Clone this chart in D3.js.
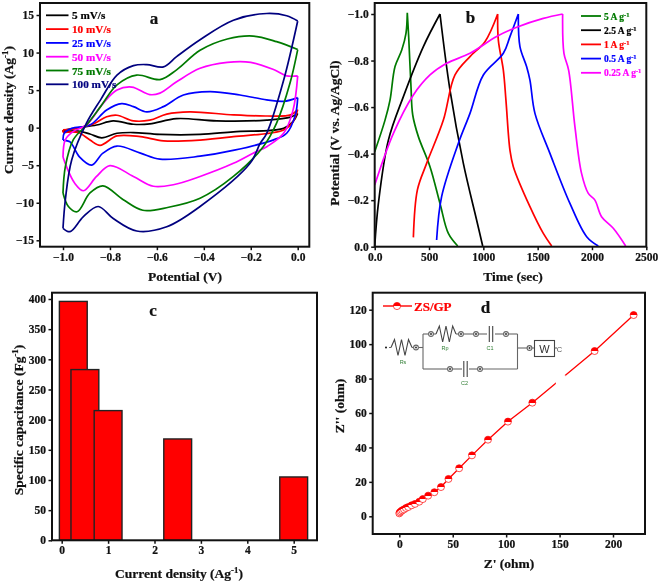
<!DOCTYPE html>
<html><head><meta charset="utf-8">
<script src="https://cdn.jsdelivr.net/npm/d3@7/dist/d3.min.js"></script>
<style>
html,body{margin:0;padding:0;background:#fff}
svg{display:block;filter:blur(0.35px)}
text{font-family:"Liberation Serif",serif;font-weight:bold}
</style></head><body>
<svg id="c" width="661" height="583" viewBox="0 0 661 583"></svg>
<script>
// Panel a: cyclic voltammetry
const cvSeries = ["5 mV/s","10 mV/s","25 mV/s","50 mV/s","75 mV/s","100 mV/s"];
const cvColors = ["#000000","#ff0000","#0000ff","#ff00ff","#007a00","#00007f"];
const cv5 = [[0,1.9],[-0.02,0.8],[-0.06,-0.1],[-0.274,-0.55],[-0.416,-0.9],[-0.587,-0.9],[-0.7,-0.65],[-0.77,-0.75],[-0.835,-1.35],[-0.885,-0.85],[-0.935,-0.45],[-1,-0.55],[-1,-0.35],[-0.93,0],[-0.857,0.35],[-0.786,0.9],[-0.7,0.45],[-0.63,0.5],[-0.516,1.2],[-0.345,0.9],[-0.132,1],[-0.03,1.4],[0,1.9]];
const cv10 = [[0,2.4],[-0.02,0.8],[-0.06,-0.3],[-0.274,-1.2],[-0.416,-1.65],[-0.572,-1.75],[-0.67,-1.2],[-0.77,-1.1],[-0.842,-2.35],[-0.885,-1.65],[-0.935,-0.65],[-1,-0.65],[-1,-0.3],[-0.94,-0.1],[-0.87,0.5],[-0.814,1.45],[-0.77,1.65],[-0.7,0.9],[-0.63,1],[-0.558,1.8],[-0.46,2.1],[-0.274,1.7],[-0.132,1.55],[-0.03,1.7],[0,2.4]];
const cv25 = [[0,4],[-0.01,1.7],[-0.047,-0.75],[-0.1,-1.6],[-0.27,-3],[-0.416,-3.8],[-0.587,-4.2],[-0.67,-3.4],[-0.77,-2.45],[-0.83,-3.4],[-0.878,-5],[-0.93,-3.9],[-0.97,-1.9],[-1,-1.65],[-0.995,-0.75],[-0.963,-0.1],[-0.885,0.35],[-0.814,2.35],[-0.75,3.2],[-0.7,2.8],[-0.643,2.1],[-0.572,2.8],[-0.487,4.35],[-0.374,4.8],[-0.246,4.35],[-0.132,3.7],[-0.06,3.5],[0,4]];
const cv50 = [[0,6.9],[-0.02,2.3],[-0.06,-0.75],[-0.13,-2.5],[-0.19,-3.4],[-0.274,-4.75],[-0.416,-6.5],[-0.53,-7.6],[-0.615,-7.8],[-0.7,-6.5],[-0.8,-5.06],[-0.857,-6.5],[-0.913,-8.4],[-0.95,-7.4],[-0.985,-5.2],[-1,-3.9],[-0.99,-1.6],[-0.956,-0.5],[-0.9,0.35],[-0.83,3.2],[-0.77,5],[-0.707,5.4],[-0.63,4.4],[-0.587,4.6],[-0.516,6.1],[-0.416,7.9],[-0.3,8.7],[-0.2,8.7],[-0.1,7.7],[-0.047,6.9],[0,6.9]];
const cv75 = [[0,10.4],[-0.033,5.9],[-0.09,0.6],[-0.146,-2.5],[-0.274,-6.5],[-0.416,-9.4],[-0.55,-10.6],[-0.66,-11],[-0.743,-9.6],[-0.83,-7.75],[-0.885,-8.7],[-0.94,-11.2],[-0.977,-10.5],[-1,-8.7],[-0.99,-5.2],[-0.956,-1.6],[-0.9,0.35],[-0.84,2.8],[-0.77,5.7],[-0.686,7],[-0.587,6.4],[-0.516,7.7],[-0.416,10.3],[-0.3,11.8],[-0.19,12.2],[-0.09,11.45],[0,10.4]];
const cv100 = [[0,14.2],[-0.06,6.3],[-0.132,-0.75],[-0.16,-2.1],[-0.203,-4.75],[-0.416,-10.5],[-0.558,-13.2],[-0.686,-13.76],[-0.786,-12.1],[-0.85,-10.5],[-0.913,-11.85],[-0.97,-13.85],[-1,-13.4],[-0.99,-9.6],[-0.963,-4.3],[-0.9,0.6],[-0.84,3.7],[-0.77,7],[-0.7,8.26],[-0.643,8.4],[-0.572,8.1],[-0.516,9.45],[-0.416,11.7],[-0.274,14.3],[-0.132,15.2],[-0.047,14.9],[0,14.2]];
const cvData = [cv5,cv10,cv25,cv50,cv75,cv100];
const cvXTicks = [-1,-0.8,-0.6,-0.4,-0.2,0];
const cvYTicks = [-15,-10,-5,0,5,10,15];

// Panel b: charge/discharge
const gcdSeries = ["5 A g","2.5 A g","1 A g","0.5 A g","0.25 A g"];
const gcdColors = ["#007a00","#000000","#ff0000","#0000ff","#ff00ff"];
const gcd5 = [[0,-0.408],[95,-0.544],[141,-0.63],[187,-0.774],[249,-0.845],[288,-0.917],[300,-1.005],[313,-0.9],[334,-0.688],[350,-0.566],[402,-0.473],[509,-0.344],[601,-0.186],[678,-0.057],[764,-0.003]];
const gcd25 = [[0,0],[34,-0.186],[126,-0.458],[264,-0.645],[448,-0.86],[601,-1],[693,-0.673],[816,-0.358],[938,-0.115],[994,-0.003]];
const gcd1 = [[356,-0.04],[393,-0.244],[478,-0.358],[632,-0.544],[739,-0.738],[877,-0.817],[1015,-0.881],[1132,-1],[1138,-0.888],[1184,-0.759],[1208,-0.63],[1245,-0.415],[1276,-0.344],[1429,-0.172],[1552,-0.057],[1629,-0.003]];
const gcd05 = [[570,-0.029],[616,-0.215],[770,-0.444],[877,-0.573],[1000,-0.738],[1184,-0.831],[1245,-0.903],[1322,-1],[1337,-0.86],[1398,-0.774],[1429,-0.716],[1475,-0.573],[1613,-0.401],[1797,-0.186],[1951,-0.043],[2058,-0.003]];
const gcd025 = [[0,-0.265],[172,-0.487],[356,-0.652],[509,-0.738],[662,-0.788],[877,-0.831],[1122,-0.903],[1307,-0.943],[1552,-0.981],[1730,-1],[1742,-0.831],[1785,-0.759],[1843,-0.516],[1904,-0.315],[1966,-0.229],[2027,-0.2],[2088,-0.129],[2196,-0.079],[2310,-0.003]];
const gcdData = [gcd5,gcd25,gcd1,gcd05,gcd025];
const gcdXTicks = [0,500,1000,1500,2000,2500];
const gcdYTicks = [0,-0.2,-0.4,-0.6,-0.8,-1];

// Panel c: specific capacitance
const capCurrent = [0.25,0.5,1,2.5,5];
const capValues = [396,283,215,168,105];
const capBarWidth = 0.6;
const capXTicks = [0,1,2,3,4,5];
const capYTicks = [0,50,100,150,200,250,300,350,400];

// Panel d: Nyquist
const zReal = [0,0.6,1.6,2.8,4.4,6.2,8.4,11.5,14.7,18.7,22,27,32.8,39,46,56,68,83,101.7,124.5,182.8,219.3];
const zImag = [1.7,2.3,2.9,3.5,4,4.8,5.4,6.4,7.2,8.5,10,12,14,17,21.7,27.9,35.4,44.5,55,66,96,116.9];
const zXTicks = [0,50,100,150,200];
const zYTicks = [0,20,40,60,80,100,120];

const svg = d3.select("#c");
const defs = svg.append("defs");
const grad = defs.append("linearGradient").attr("id","half").attr("x1",0).attr("x2",0).attr("y1",0).attr("y2",1);
grad.append("stop").attr("offset","50%").attr("stop-color","#ff0000");
grad.append("stop").attr("offset","50%").attr("stop-color","#ffffff");

function frame(box, xs, ys, xTicks, yTicks, xFmt, yFmt){
  const g = svg.append("g");
  const ax = g.append("g").attr("transform",`translate(0,${box.b})`)
    .call(d3.axisBottom(xs).tickValues(xTicks).tickFormat(xFmt).tickSize(3.5).tickPadding(2.5));
  const ay = g.append("g").attr("transform",`translate(${box.l},0)`)
    .call(d3.axisLeft(ys).tickValues(yTicks).tickFormat(yFmt).tickSize(3.5).tickPadding(2.5));
  [ax,ay].forEach(a=>{
    a.select(".domain").remove();
    a.selectAll("line").attr("stroke","#111").attr("stroke-width",1.5);
    a.selectAll("text").attr("font-size",11.5).attr("fill","#111");
  });
  return g;
}
function border(box){
  svg.append("rect").attr("x",box.l).attr("y",box.t).attr("width",box.r-box.l).attr("height",box.b-box.t)
    .attr("fill","none").attr("stroke","#111").attr("stroke-width",2);
}
function label(x,y,t,size,rot,fill){
  const s = svg.append("text").attr("text-anchor","middle").attr("font-size",size||13.5).attr("fill",fill||"#111");
  if(rot) s.attr("transform",`translate(${x},${y}) rotate(-90)`); else s.attr("x",x).attr("y",y);
  return s.text(t);
}
function supLabel(x,y,parts,size,rot){
  const s = label(x,y,"",size,rot);
  parts.forEach(p=>{
    const ts = s.append("tspan").text(p[0]);
    if(p[1]) ts.attr("font-size",size*0.65).attr("dy",-size*0.35);
    if(p[2]) ts.attr("dy",size*0.35*0.99);
  });
  return s;
}
// split a curve at given indexes so the turning points stay sharp
function pieces(line, d, cuts){
  const idx = [0,...cuts,d.length-1];
  let out = "";
  for(let i=0;i<idx.length-1;i++) if(idx[i+1]>idx[i]) out += line(d.slice(idx[i],idx[i+1]+1));
  return out;
}

// ----- a
const boxA = {l:40,r:309.3,t:3,b:246.7};
const xA = d3.scaleLinear().domain([-1,0]).range([63,297.7]);
const yA = d3.scaleLinear().domain([-15,15]).range([240.3,15]);
frame(boxA,xA,yA,cvXTicks,cvYTicks,d3.format(".1f"),d3.format("d"));
const lineA = d3.line().x(d=>xA(d[0])).y(d=>yA(d[1])).curve(d3.curveCatmullRom.alpha(0.5));
cvData.forEach((d,i)=>{
  const cuts = d.map((p,k)=>p[0]===-1?k:-1).filter(k=>k>=0);
  svg.append("path").attr("d",pieces(lineA,d,cuts)).attr("fill","none").attr("stroke",cvColors[i]).attr("stroke-width",1.7);
});
border(boxA);
cvSeries.forEach((n,i)=>{
  const y = 15.3+i*13.8;
  svg.append("line").attr("x1",46).attr("x2",68.5).attr("y1",y).attr("y2",y).attr("stroke",cvColors[i]).attr("stroke-width",1.8);
  svg.append("text").attr("x",72).attr("y",y+4).attr("font-size",11.2).attr("fill",cvColors[i]).text(n);
});
label(154,24,"a",17);
supLabel(13,110,[["Current density (Ag"],["-1",true],[")",false,true]],13.5,true);
label(185,281,"Potential (V)",13.5);

// ----- b
const boxB = {l:374.7,r:646.3,t:3,b:246.7};
const xB = d3.scaleLinear().domain([0,2500]).range([374.7,646.3]);
const yB = d3.scaleLinear().domain([0,-1]).range([246.7,14]);
frame(boxB,xB,yB,gcdXTicks,gcdYTicks,d=>d===0?"0.0":d3.format("d")(d),d=>d===0?"0.0":d3.format(".1f")(d));
const lineB = d3.line().x(d=>xB(d[0])).y(d=>yB(d[1])).curve(d3.curveCatmullRom.alpha(0.5));
gcdData.forEach((d,i)=>{
  const k = d3.leastIndex(d,(a,b)=>a[1]-b[1]);
  svg.append("path").attr("d",pieces(lineB,d,[k])).attr("fill","none").attr("stroke",gcdColors[i]).attr("stroke-width",1.7);
});
border(boxB);
gcdSeries.forEach((n,i)=>{
  const y = 16+i*14.2;
  svg.append("line").attr("x1",581).attr("x2",601).attr("y1",y).attr("y2",y).attr("stroke",gcdColors[i]).attr("stroke-width",1.8);
  const t = svg.append("text").attr("x",604).attr("y",y+3.5).attr("font-size",9.5).attr("fill",gcdColors[i]);
  t.append("tspan").text(n);
  t.append("tspan").attr("font-size",6.5).attr("dy",-3).text("-1");
});
label(470.5,23,"b",17);
label(339,133,"Potential (V vs. Ag/AgCl)",13.5,true);
label(513,281,"Time (sec)",13.5);

// ----- c
const boxC = {l:52,r:317,t:292.7,b:540.3};
const xC = d3.scaleLinear().domain([0,5]).range([61.7,293.7]);
const yC = d3.scaleLinear().domain([0,400]).range([540.3,299]);
frame(boxC,xC,yC,capXTicks,capYTicks,d3.format("d"),d3.format("d"));
svg.append("g").selectAll("rect").data(capCurrent).join("rect")
  .attr("x",d=>xC(d-capBarWidth/2)).attr("width",d=>xC(d+capBarWidth/2)-xC(d-capBarWidth/2))
  .attr("y",(d,i)=>yC(capValues[i])).attr("height",(d,i)=>yC(0)-yC(capValues[i]))
  .attr("fill","#ff0000").attr("stroke","#222").attr("stroke-width",1.4);
border(boxC);
label(153,315.5,"c",17);
supLabel(23,420,[["Specific capacitance (Fg"],["-1",true],[")",false,true]],13.5,true);
supLabel(179,578,[["Current density (Ag"],["-1",true],[")",false,true]],13.5);

// ----- d
const boxD = {l:372.7,r:645,t:292.7,b:534};
const xD = d3.scaleLinear().domain([0,200]).range([399.3,613]);
const yD = d3.scaleLinear().domain([0,120]).range([516.3,309.7]);
frame(boxD,xD,yD,zXTicks,zYTicks,d3.format("d"),d3.format("d"));
const zPts = zReal.map((x,i)=>[x,zImag[i]]);
const lineD = d3.line().x(d=>xD(d[0])).y(d=>yD(d[1]));
svg.append("path").attr("d",lineD(zPts)).attr("fill","none").attr("stroke","#ff0000").attr("stroke-width",1.3);
// white break in the line
svg.append("rect").attr("x",xD(146.5)).attr("y",yD(82)).attr("width",xD(155.5)-xD(146.5)).attr("height",yD(76)-yD(82)).attr("fill","#fff");
svg.append("g").selectAll("circle").data(zPts).join("circle")
  .attr("cx",d=>xD(d[0])).attr("cy",d=>yD(d[1])).attr("r",3.5)
  .attr("fill","url(#half)").attr("stroke","#ff0000").attr("stroke-width",0.7);
border(boxD);
svg.append("line").attr("x1",383).attr("x2",412).attr("y1",306).attr("y2",306).attr("stroke","#ff0000").attr("stroke-width",1.4);
svg.append("circle").attr("cx",397).attr("cy",306).attr("r",3.6).attr("fill","url(#half)").attr("stroke","#ff0000").attr("stroke-width",0.7);
svg.append("text").attr("x",414).attr("y",310.5).attr("font-size",13).attr("fill","#ff0000").text("ZS/GP");
label(485.5,313,"d",17);
label(344,406,"Z'' (ohm)",13.5,true);
label(509,567.5,"Z' (ohm)",13.5);

// thicken the bold text slightly, as in the scanned reference
svg.selectAll("text").each(function(){
  const f = d3.select(this).attr("fill");
  d3.select(this).attr("stroke",f).attr("stroke-width",0.22);
});

// inset: equivalent circuit
const ci = svg.append("g").attr("fill","none").attr("stroke","#666").attr("stroke-width",1.1);
const wire = (x1,y1,x2,y2)=>ci.append("line").attr("x1",x1).attr("y1",y1).attr("x2",x2).attr("y2",y2);
const node = (x,y)=>{
  ci.append("circle").attr("cx",x).attr("cy",y).attr("r",2.4).attr("fill","#fff");
  ci.append("circle").attr("cx",x).attr("cy",y).attr("r",1).attr("fill","#333").attr("stroke","none");
};
const zig = (x,y,w,h)=>{
  const n=6, pts=[];
  for(let i=0;i<=n;i++){pts.push([x+w*i/n, i===0||i===n? y : y+(i%2?-h:h)]);}
  ci.append("path").attr("d",d3.line()(pts)).attr("stroke","#444");
};
const cap = (x,y)=>{
  ci.append("line").attr("x1",x-1.7).attr("x2",x-1.7).attr("y1",y-8).attr("y2",y+8).attr("stroke","#444");
  ci.append("line").attr("x1",x+1.7).attr("x2",x+1.7).attr("y1",y-8).attr("y2",y+8).attr("stroke","#444");
};
svg.append("circle").attr("cx",386).attr("cy",347.5).attr("r",1).attr("fill","#111");
wire(389,347.5,391,347.5); zig(391,347.5,21,8); wire(412,347.5,416,347.5); node(416,347.5);
wire(419,347.5,423,347.5); wire(423,334,423,369); wire(423,334,431,334); wire(423,369,450,369);
node(431,334); wire(433,334,436,334); zig(436,334,20,8); wire(456,334,461,334); node(461,334);
wire(464,334,476,334); node(476,334); wire(478,334,487,334); cap(491,334); wire(495,334,505,334); node(506,334);
wire(508,334,517.5,334); wire(517.5,334,517.5,369);
node(450,369); wire(452,369,462,369); cap(465.5,369); wire(469,369,480,369); node(480,369); wire(482,369,517.5,369);
wire(517.5,348,527,348); node(529.5,348); wire(532,348,534.5,348);
ci.append("rect").attr("x",534.5).attr("y",340.5).attr("width",20).attr("height",16).attr("stroke","#444");
wire(554.5,348,557,348);
const insetText=(x,y,t,s,c)=>svg.append("text").attr("x",x).attr("y",y).attr("text-anchor","middle").attr("font-size",s).attr("fill",c)
  .style("font-family","'Liberation Sans',sans-serif").style("font-weight","normal").text(t);
insetText(544.5,353,"W",11,"#333");
insetText(559.5,351.5,"C",7.5,"#555");
insetText(403,364,"Rs",5.5,"#2e7d32");
insetText(445,350,"Rp",5.5,"#2e7d32");
insetText(490,350,"C1",5.5,"#2e7d32");
insetText(464.5,385,"C2",5.5,"#2e7d32");
</script>
</body></html>
